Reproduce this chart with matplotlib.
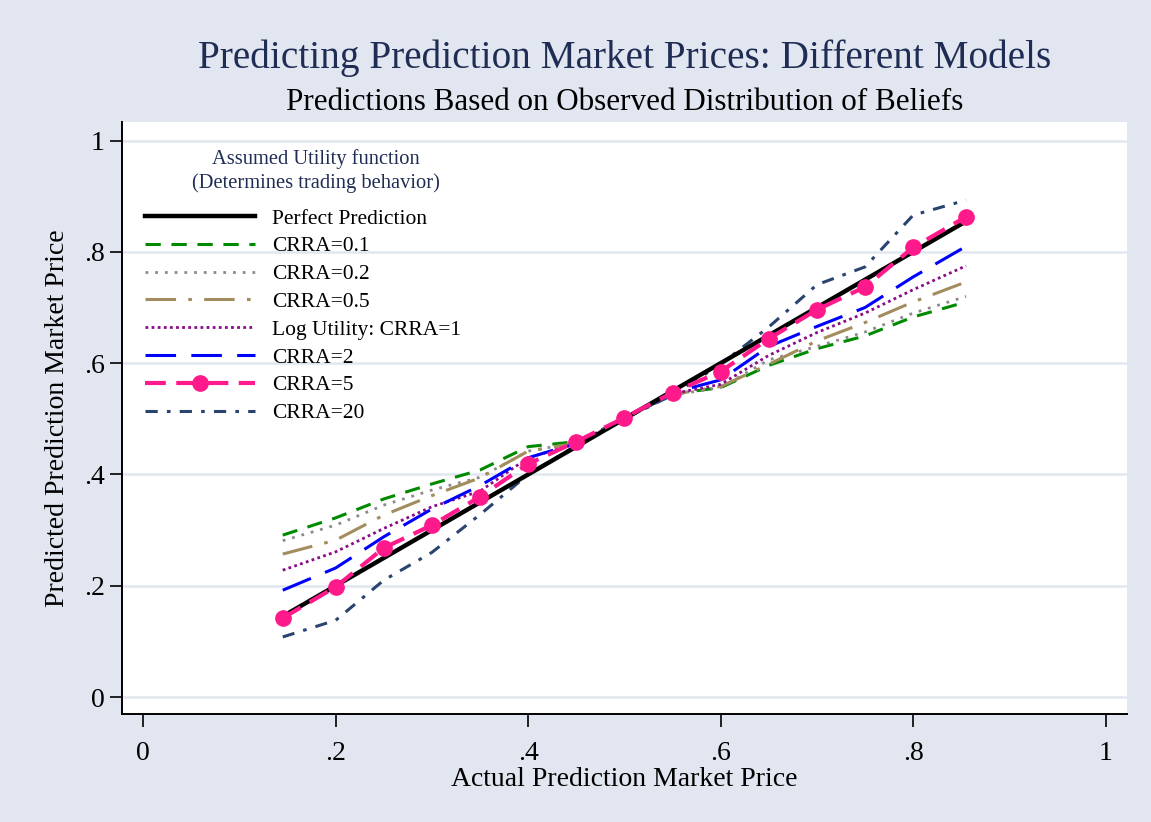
import matplotlib
matplotlib.use("Agg")
import matplotlib.pyplot as plt
import numpy as np

plt.rcParams["font.family"] = ["Liberation Serif", "DejaVu Serif"]

# binned actual prices (x) and predicted prices for each utility model
actual = [0.145, 0.2, 0.25, 0.3, 0.35, 0.4, 0.45, 0.5, 0.55, 0.6, 0.65, 0.7, 0.75, 0.8, 0.855]
perfect = [0.145, 0.855]
perfect_x = [0.145, 0.855]
crra_01 = [0.291, 0.322, 0.356, 0.383, 0.408, 0.450, 0.459, 0.500, 0.545, 0.556, 0.596, 0.626, 0.649, 0.683, 0.710]
crra_02 = [0.281, 0.309, 0.345, 0.372, 0.395, 0.442, 0.457, 0.500, 0.543, 0.556, 0.606, 0.630, 0.656, 0.690, 0.720]
crra_05 = [0.257, 0.282, 0.327, 0.362, 0.394, 0.442, 0.456, 0.500, 0.544, 0.558, 0.598, 0.640, 0.673, 0.710, 0.746]
crra_1 = [0.228, 0.261, 0.303, 0.342, 0.370, 0.430, 0.455, 0.500, 0.545, 0.562, 0.614, 0.655, 0.690, 0.732, 0.775]
crra_2 = [0.192, 0.232, 0.288, 0.338, 0.380, 0.430, 0.456, 0.500, 0.547, 0.570, 0.630, 0.666, 0.700, 0.755, 0.810]
crra_5 = [0.142, 0.198, 0.268, 0.309, 0.360, 0.419, 0.459, 0.502, 0.547, 0.585, 0.644, 0.696, 0.737, 0.808, 0.863]
crra_20 = [0.108, 0.138, 0.210, 0.260, 0.328, 0.400, 0.452, 0.500, 0.543, 0.598, 0.665, 0.741, 0.773, 0.866, 0.893]

ticks = [0, 0.2, 0.4, 0.6, 0.8, 1]
tick_labels = ["0", ".2", ".4", ".6", ".8", "1"]

bg = "#e1e6f0"
navy = "#1f2d55"

fig = plt.figure(figsize=(11.51, 8.22), dpi=100, facecolor=bg)
ax = fig.add_axes([0.106, 0.131, 0.873, 0.721])
ax.set_facecolor("white")

for t in ticks:
    ax.axhline(t, color=bg, lw=1.8, zorder=0)

ax.plot(perfect_x, perfect, color="black", lw=3.2, label="Perfect Prediction", zorder=3)
ax.plot(actual, crra_01, color="#008a00", lw=2.2, dashes=(5, 3.5), label="CRRA=0.1")
ax.plot(actual, crra_02, color="#8a8a8a", lw=2.0, dashes=(1, 2.5), label="CRRA=0.2")
ax.plot(actual, crra_05, color="#a38d5e", lw=2.2, dashes=(10, 4, 1.2, 4), label="CRRA=0.5")
ax.plot(actual, crra_1, color="#8a0a8a", lw=2.0, dashes=(1, 1.2), label="Log Utility: CRRA=1")
ax.plot(actual, crra_2, color="#0000ff", lw=2.2, dashes=(10, 5), label="CRRA=2")
ax.plot(actual, crra_5, color="#ff1a8c", lw=3.0, dashes=(5, 2.5), marker="o", markersize=11,
        label="CRRA=5", zorder=4)
ax.plot(actual, crra_20, color="#2a4470", lw=2.2, dashes=(4, 3, 1.2, 3), label="CRRA=20")

ax.set_xlim(-0.022, 1.022)
ax.set_ylim(-0.031, 1.034)
ax.set_xticks(ticks)
ax.set_xticklabels(tick_labels)
ax.set_yticks(ticks)
ax.set_yticklabels(tick_labels)
ax.tick_params(axis="both", direction="out", length=9, width=1.2, labelsize=20, colors="black")
ax.tick_params(axis="x", pad=10)
for side in ["top", "right"]:
    ax.spines[side].set_visible(False)
for side in ["left", "bottom"]:
    ax.spines[side].set_linewidth(1.4)

ax.set_xlabel("Actual Prediction Market Price", fontsize=20, labelpad=1)
ax.set_ylabel("Predicted Prediction Market Price", fontsize=20, labelpad=10)

leg = ax.legend(loc="upper left", bbox_to_anchor=(0.0143, 0.868), frameon=False,
                fontsize=15.5, handlelength=5.1, labelspacing=0.36, handletextpad=0.8,
                borderaxespad=0)

# legend heading, centred above the key
fig.text(0.2745, 0.8065, "Assumed Utility function", ha="center", va="center",
         fontsize=14.8, color=navy)
fig.text(0.2745, 0.7773, "(Determines trading behavior)", ha="center", va="center",
         fontsize=14.8, color=navy)

fig.text(0.5426, 0.929, "Predicting Prediction Market Prices: Different Models",
         ha="center", va="center", fontsize=28.3, color=navy)
fig.text(0.5426, 0.875, "Predictions Based on Observed Distribution of Beliefs",
         ha="center", va="center", fontsize=22.4, color="black")

plt.savefig("out.png", dpi=100, facecolor=bg)
